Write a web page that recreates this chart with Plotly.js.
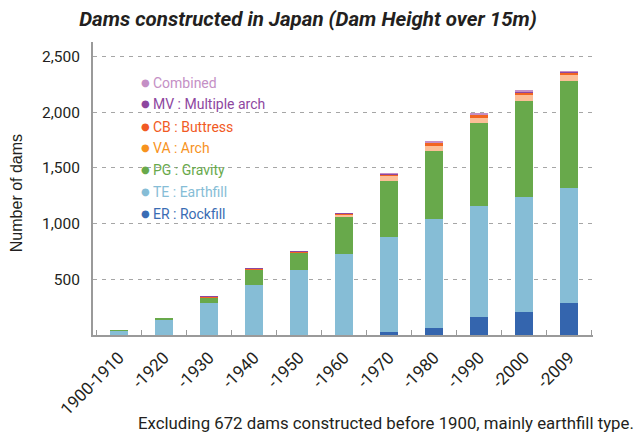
<!DOCTYPE html>
<html>
<head>
<meta charset="utf-8">
<script src="https://cdn.plot.ly/plotly-3.0.1.min.js"></script>
<style>
html,body{margin:0;padding:0;background:#fff;}
#chart{width:638px;height:439px;}
</style>
</head>
<body>
<div id="chart"></div>
<script>
// Decade categories (cumulative counts)
const categories = ["1900-1910","-1920","-1930","-1940","-1950","-1960","-1970","-1980","-1990","-2000","-2009"];
// Series values (stack order bottom -> top)
const rockfillER  = [0, 0, 0, 0, 0, 0, 25, 65, 165, 205, 285];
const earthfillTE = [39, 134, 287, 448, 582, 726, 856, 974, 991, 1034, 1032];
const gravityPG   = [8, 18, 47, 134, 153, 334, 502, 610, 744, 860, 961];
const archVA      = [0, 0, 0, 1, 2, 15, 42, 50, 50, 54, 54];
const buttressCB  = [0, 0, 8, 8, 8, 10, 15, 20, 22, 22, 22];
const multiArchMV = [0, 0, 5, 6, 6, 6, 6, 6, 6, 6, 6];
const combined    = [0, 0, 0, 0, 0, 2, 6, 13, 17, 14, 14];

const seriesNames = ["ER : Rockfill","TE : Earthfill","PG : Gravity","VA : Arch","CB : Buttress","MV : Multiple arch","Combined"];
const seriesData = [rockfillER, earthfillTE, gravityPG, archVA, buttressCB, multiArchMV, combined];
const barColors = ["#3465ae","#86bdd6","#68a94b","#fcbf97","#f26522","#8e479f","#c48fc5"];
const legendColors = ["#3a6cb4","#86bdd6","#68a94b","#f7931e","#f15a24","#8e479f","#c48fc5"];

const traces = seriesData.map((vals, i) => ({
  type: "bar",
  name: seriesNames[i],
  x: categories,
  y: vals,
  marker: {color: barColors[i], line: {width: 0}},
  showlegend: false,
  hoverinfo: "name+y"
}));

const L = 93, R = 45.3, T = 42, B = 103.5;
const W = 638, H = 439;
const plotW = W - L - R, plotH = H - T - B;
const yMax = 2500 + (335.5 - 56.5 - (H - B - T - (H - B - T))) * 0; // placeholder not used
const px2x = px => (px - L) / plotW;
const py2y = py => (H - B - py) / plotH;

const annotations = [];
// custom coloured legend (top item = last series)
const legendRowsY = [214, 192, 170, 148, 127, 104, 83];
for (let i = 0; i < seriesNames.length; i++) {
  annotations.push({
    xref: "paper", yref: "paper", x: px2x(145), y: py2y(legendRowsY[i]),
    xanchor: "center", yanchor: "middle", showarrow: false,
    text: "●", font: {family: "DejaVu Sans", size: 10, color: legendColors[i]}
  });
  annotations.push({
    xref: "paper", yref: "paper", x: px2x(151), y: py2y(legendRowsY[i]),
    xanchor: "left", yanchor: "middle", showarrow: false,
    text: seriesNames[i], font: {family: "Roboto", size: 14, color: legendColors[i]}
  });
}
// y-axis title
annotations.push({
  xref: "paper", yref: "paper", x: px2x(16), y: py2y(193.5),
  xanchor: "center", yanchor: "middle", showarrow: false, textangle: -90,
  text: "Number of dams", font: {family: "Liberation Sans, Arial", size: 16, color: "#231f20"}
});
// footnote
annotations.push({
  xref: "paper", yref: "paper", x: px2x(636), y: py2y(424),
  xanchor: "right", yanchor: "middle", showarrow: false,
  text: "Excluding 672 dams constructed before 1900, mainly earthfill type.",
  font: {family: "Roboto", size: 16.8, color: "#231f20"}
});

// y range so that 0 sits at the axis and 2500 at the top gridline (~56.5px)
const yTop = 2500 * plotH / (335.5 - 56.5);

const layout = {
  width: W, height: H,
  margin: {l: L, r: R, t: T, b: B, pad: 0},
  paper_bgcolor: "#fff", plot_bgcolor: "#fff",
  barmode: "stack",
  bargap: 0.6,
  title: {
    text: "<b><i>Dams constructed in Japan (Dam Height over 15m)</i></b>",
    font: {family: "Roboto", size: 20.5, color: "#231f20"},
    x: 308 / W, xanchor: "center", xref: "container",
    y: 1 - 19 / H, yanchor: "middle", yref: "container"
  },
  xaxis: {
    type: "category",
    range: [-0.58, 10.53],
    showline: true, linecolor: "#9a9a9a", linewidth: 2,
    ticks: "inside", tickson: "boundaries", ticklen: 5, tickwidth: 1.5, tickcolor: "#9a9a9a",
    tickangle: -45, ticklabelstandoff: 4,
    tickfont: {family: "Roboto", size: 17, color: "#231f20"},
    showgrid: false, zeroline: false, fixedrange: true
  },
  yaxis: {
    range: [0, yTop],
    tickvals: [500, 1000, 1500, 2000, 2500],
    tickformat: ",d",
    showline: true, linecolor: "#9a9a9a", linewidth: 2,
    ticks: "", ticklabelstandoff: 8,
    tickfont: {family: "Roboto", size: 15.5, color: "#231f20"},
    showgrid: true, gridcolor: "#a6a6a6", gridwidth: 1.2, griddash: "4px,5px",
    zeroline: false, fixedrange: true
  },
  annotations: annotations,
  showlegend: false
};

Plotly.newPlot("chart", traces, layout, {displayModeBar: false, staticPlot: true});
</script>
</body>
</html>
